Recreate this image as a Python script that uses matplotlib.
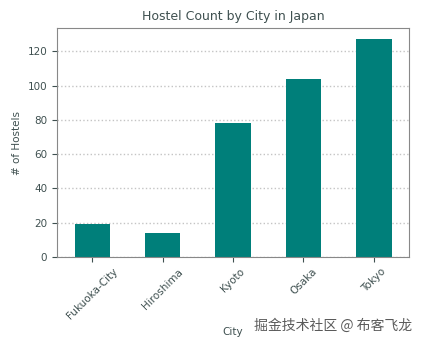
import matplotlib
matplotlib.use("Agg")
import matplotlib.pyplot as plt

cities = ["Fukuoka-City", "Hiroshima", "Kyoto", "Osaka", "Tokyo"]
counts = [19, 14, 78, 104, 127]

txt = "#3f5050"
plt.rcParams['font.family'] = ['DejaVu Sans']
fig = plt.figure(figsize=(4.32, 3.43), dpi=100)
ax = fig.add_axes([0.132, 0.251, 0.815, 0.667])
x = range(len(cities))
ax.bar(x, counts, width=0.5, color="#007f7a", zorder=2)
ax.set_xticks(list(x))
ax.set_xticklabels(cities, rotation=45, fontsize=7.5, color=txt)
ax.set_xlim(-0.5, len(cities) - 0.5)
ax.set_ylim(0, 133.5)
ax.set_yticks([0, 20, 40, 60, 80, 100, 120])
ax.tick_params(axis='y', labelsize=7.5, colors=txt)
ax.tick_params(axis='x', colors=txt)
ax.grid(axis='y', color='#c4c4c4', linestyle=':', linewidth=1.0, zorder=0)
for s in ax.spines.values():
    s.set_color('#888888')
ax.set_title("Hostel Count by City in Japan", fontsize=9, color=txt)
ax.set_ylabel("# of Hostels", fontsize=7.5, color=txt)
ax.set_xlabel("City", fontsize=7.5, color=txt)
fig.text(0.955, 0.052, "掘金技术社区 @ 布客飞龙", ha='right', va='center',
         fontsize=10, color='#5a5a5a', family=['Noto Sans CJK SC', 'DejaVu Sans'])
fig.savefig("out.png", dpi=100)
